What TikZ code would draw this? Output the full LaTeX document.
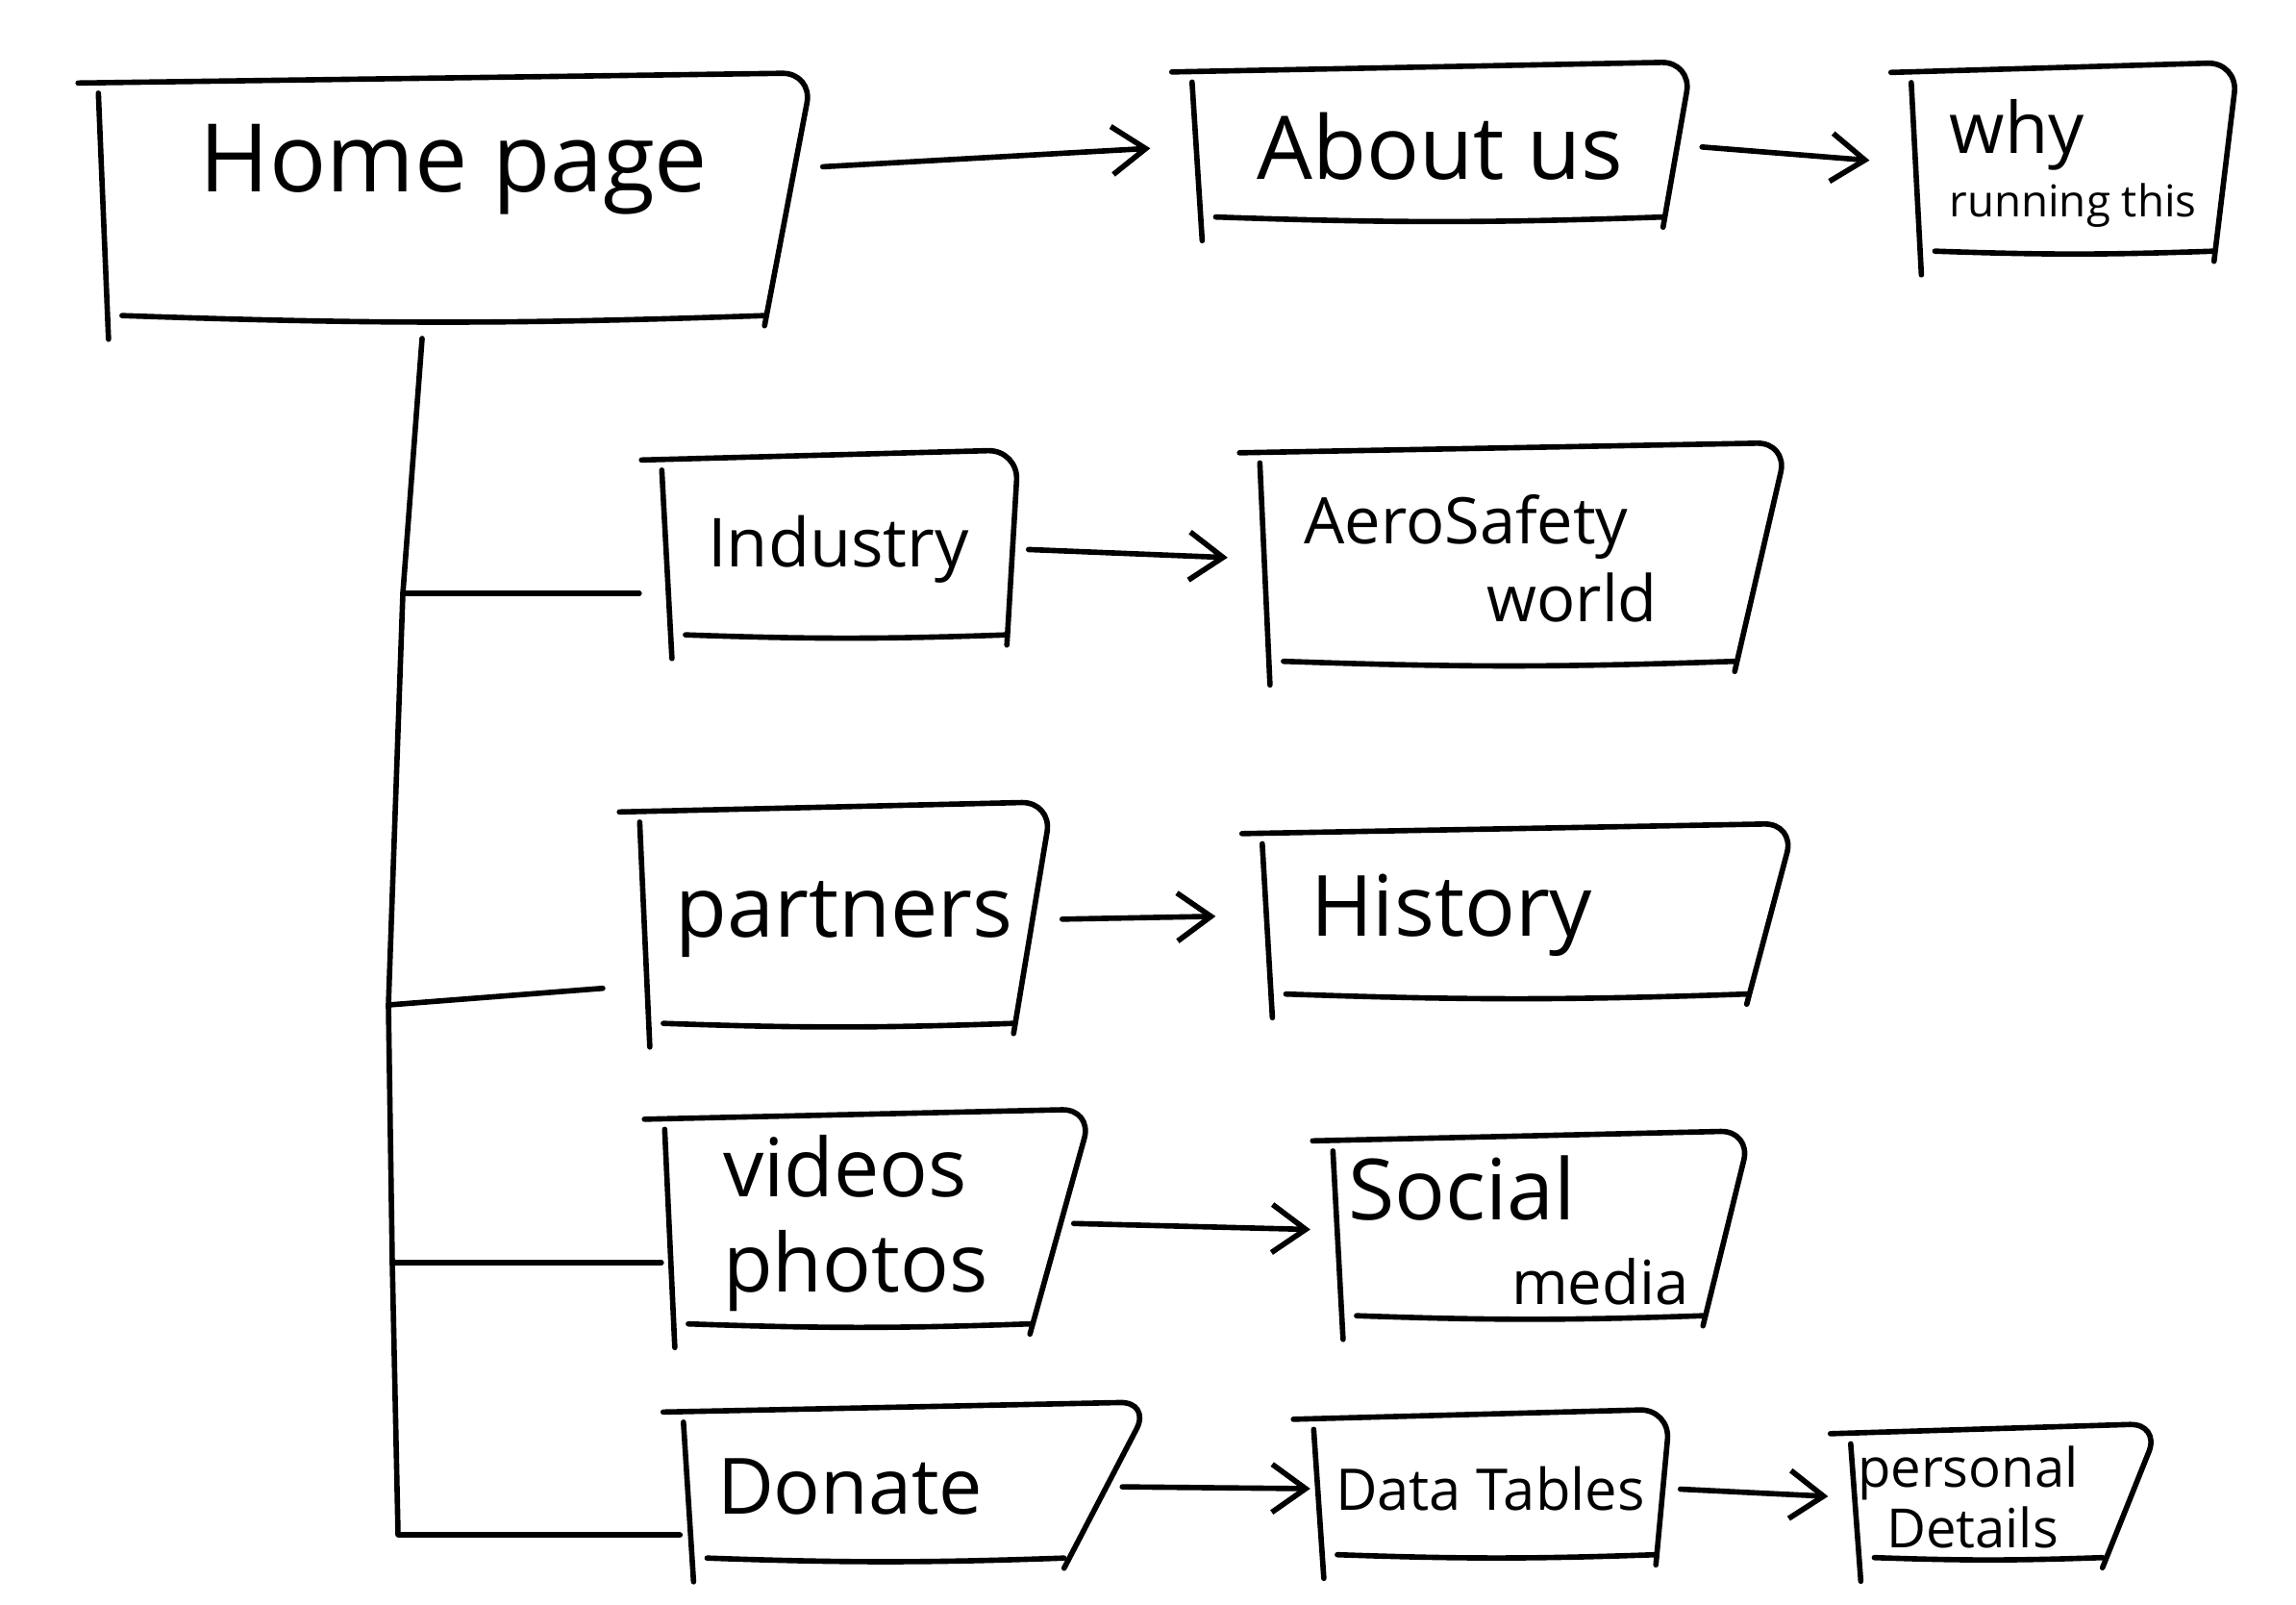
\documentclass[tikz,border=0pt]{standalone}
\usepackage{fontspec}
\setmainfont{Open Sans}
\usetikzlibrary{positioning,arrows.meta}
\tikzset{pen/.style={line width=1.6pt,line cap=round,line join=round},
  pagebox/.style={inner sep=0pt},
  txt/.style={font=\fontsize{#1}{#1}\selectfont},
  link/.style={pen,-{Straight Barb[length=3.5mm,width=5mm]},shorten <=3pt,shorten >=3mm}}

% #1 节点名, #2 右边的斜度
\newcommand{\sketchbox}[2]{%
  \draw[pen] ([xshift=1pt,yshift=-5pt]#1.north west) -- ([xshift=4pt,yshift=-4pt]#1.south west);
  \draw[pen,rounded corners=9pt] ([xshift=-5pt,yshift=-2pt]#1.north west) -- ([yshift=1pt]#1.north east) -- ([xshift=-#2]#1.south east);
  \draw[pen] ([xshift=8pt,yshift=3pt]#1.south west) to[bend right=2] ([xshift=-#2,yshift=3pt]#1.south east);
}

\begin{document}
\begin{tikzpicture}
  \useasboundingbox (0,0) rectangle (23.88,-16.68);
  % 页面
  \node[pagebox,txt=28,minimum width=7.45cm,minimum height=2.58cm,text depth=0.9cm] (home) at (4.72,-2.09) {Home page};
  \node[pagebox,txt=26,minimum width=5.22cm,minimum height=1.67cm] (about) at (14.98,-1.52) {About us};
  \node[pagebox,txt=13,align=left,minimum width=3.42cm,minimum height=2.02cm] (why) at (21.56,-1.70) {{\fontsize{21}{21}\selectfont why}\\[3pt]running this};
  \node[pagebox,txt=20,minimum width=3.73cm,minimum height=1.98cm] (industry) at (8.72,-5.71) {Industry};
  \node[pagebox,txt=19,align=left,text width=4.53cm,minimum width=5.51cm,minimum height=2.33cm] (aero) at (15.83,-5.81) {AeroSafety\\[4pt]\hspace*{1.9cm}world};
  \node[pagebox,txt=25,minimum width=4.31cm,minimum height=2.36cm] (partners) at (8.78,-9.56) {partners};
  \node[pagebox,txt=25,align=left,text width=4.5cm,minimum width=5.56cm,minimum height=1.83cm] (history) at (15.88,-9.52) {History};
  \node[pagebox,txt=24,align=left,text width=3.2cm,minimum width=4.47cm,minimum height=2.29cm] (videos) at (9.12,-12.72) {videos\\[4pt]photos};
  \node[pagebox,txt=25,align=left,text width=4.0cm,minimum width=4.37cm,minimum height=1.98cm] (social) at (16.02,-12.79) {Social\\\hspace*{1.7cm}{\fontsize{18}{18}\selectfont media}};
  \node[pagebox,txt=23,align=left,text width=4.12cm,minimum width=4.88cm,minimum height=1.68cm] (donate) at (9.52,-15.46) {Donate};
  \node[pagebox,txt=17,minimum width=3.73cm,minimum height=1.57cm] (tables) at (15.50,-15.48) {Data Tables};
  \node[pagebox,txt=16,align=left,text width=3.04cm,minimum width=3.24cm,minimum height=1.45cm] (personal) at (20.84,-15.57) {personal\\[2pt]\hspace*{0.3cm}Details};

  \sketchbox{home}{0.5cm}
  \sketchbox{about}{0.3cm}
  \sketchbox{why}{0.25cm}
  \sketchbox{industry}{0.12cm}
  \sketchbox{aero}{0.55cm}
  \sketchbox{partners}{0.4cm}
  \sketchbox{history}{0.5cm}
  \sketchbox{videos}{0.65cm}
  \sketchbox{social}{0.5cm}
  \sketchbox{donate}{0.9cm}
  \sketchbox{tables}{0.15cm}
  \sketchbox{personal}{0.6cm}

  % 主干
  \coordinate (t0) at (4.39,-3.52);
  \coordinate (j1) at (4.19,-6.17);
  \coordinate (j2) at (4.04,-10.45);
  \coordinate (j3) at (4.08,-13.13);
  \coordinate (j4) at (4.14,-15.96);
  \draw[pen] (t0) -- (j1) -- (j2) -- (j3) -- (j4) -- (j4 -| donate.west);
  \draw[pen,shorten >=2mm] (j1) -- (j1 -| industry.west);
  \draw[pen,shorten >=3.5mm] (j2) -- ([yshift=2mm]j2 -| partners.west);
  \draw[pen] (j3) -- (j3 -| videos.west);

  % 箭头
  \draw[link,shorten >=4mm] ([yshift=3.5mm]home.east) -- (about.west);
  \draw[link,shorten >=4mm] (about.east) -- (why.west);
  \draw[link] (industry.east) -- (aero.west);
  \draw[link,shorten >=4.5mm] (partners.east) -- (history.west);
  \draw[link,shorten >=2mm] ([xshift=-3mm]videos.east) -- (social.west);
  \draw[link,shorten >=0pt] ([xshift=-4mm]donate.east) -- (tables.west);
  \draw[link,shorten >=2mm] (tables.east) -- (personal.west);
\end{tikzpicture}
\end{document}
